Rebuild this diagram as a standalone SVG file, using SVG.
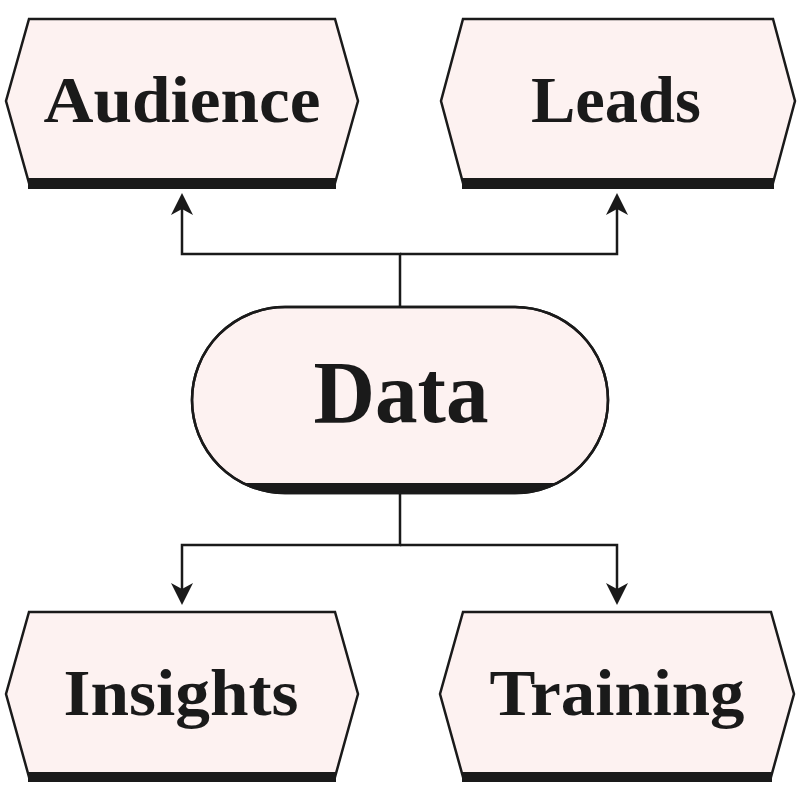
<svg xmlns="http://www.w3.org/2000/svg" width="800" height="800" viewBox="0 0 800 800">
<style>
.box{fill:#fdf2f1;stroke:#1a1a1a;stroke-width:2.5;stroke-linejoin:miter}
.bar{fill:#1a1a1a}
.lbl{font-family:"Liberation Serif","DejaVu Serif",serif;font-weight:bold;fill:#1a1a1a;text-anchor:middle}
.con{fill:none;stroke:#1a1a1a;stroke-width:2.5}
</style>
<defs>
<marker id="arr" markerUnits="userSpaceOnUse" viewBox="-20 -14 30 28" refX="0" refY="0" markerWidth="30" markerHeight="28" orient="auto">
<path d="M8,0 L-14,-11 L-8,0 L-14,11 z" fill="#1a1a1a"/>
</marker>
<clipPath id="pillclip"><rect x="192" y="307" width="416" height="186" rx="93"/></clipPath>
</defs>
<rect width="800" height="800" fill="#ffffff"/>
<g id="connectors">
<path class="con" d="M400,307 V254 H182 V201" marker-end="url(#arr)"/>
<path class="con" d="M400,254 H617 V201" marker-end="url(#arr)"/>
<path class="con" d="M400,493 V545 H182 V597" marker-end="url(#arr)"/>
<path class="con" d="M400,545 H617 V597" marker-end="url(#arr)"/>
</g>
<g id="audience">
<polygon class="box" points="29,19 335,19 358,101 335,183 29,183 6,101"/>
<rect class="bar" x="28" y="178" width="308" height="11"/>
<text class="lbl" x="182" y="122" font-size="66" textLength="277" lengthAdjust="spacingAndGlyphs">Audience</text>
</g>
<g id="leads">
<polygon class="box" points="463,19 773,19 795,101 773,183 463,183 441,101"/>
<rect class="bar" x="462" y="178" width="312" height="11"/>
<text class="lbl" x="616" y="122" font-size="66" textLength="170" lengthAdjust="spacingAndGlyphs">Leads</text>
</g>
<g id="data">
<rect class="box" x="192" y="307" width="416" height="186" rx="93"/>
<rect class="bar" x="180" y="483" width="440" height="20" clip-path="url(#pillclip)"/>
<rect x="192" y="307" width="416" height="186" rx="93" fill="none" stroke="#1a1a1a" stroke-width="2.5"/>
<text class="lbl" x="401" y="422" font-size="88" textLength="175" lengthAdjust="spacingAndGlyphs">Data</text>
</g>
<g id="insights">
<polygon class="box" points="29,612 335,612 358,694 335,777 29,777 6,694"/>
<rect class="bar" x="28" y="772" width="308" height="10"/>
<text class="lbl" x="181" y="715" font-size="66" textLength="235" lengthAdjust="spacingAndGlyphs">Insights</text>
</g>
<g id="training">
<polygon class="box" points="463,612 771,612 794,694 771,777 463,777 440,694"/>
<rect class="bar" x="462" y="772" width="310" height="10"/>
<text class="lbl" x="617" y="715" font-size="66" textLength="255" lengthAdjust="spacingAndGlyphs">Training</text>
</g>
</svg>
